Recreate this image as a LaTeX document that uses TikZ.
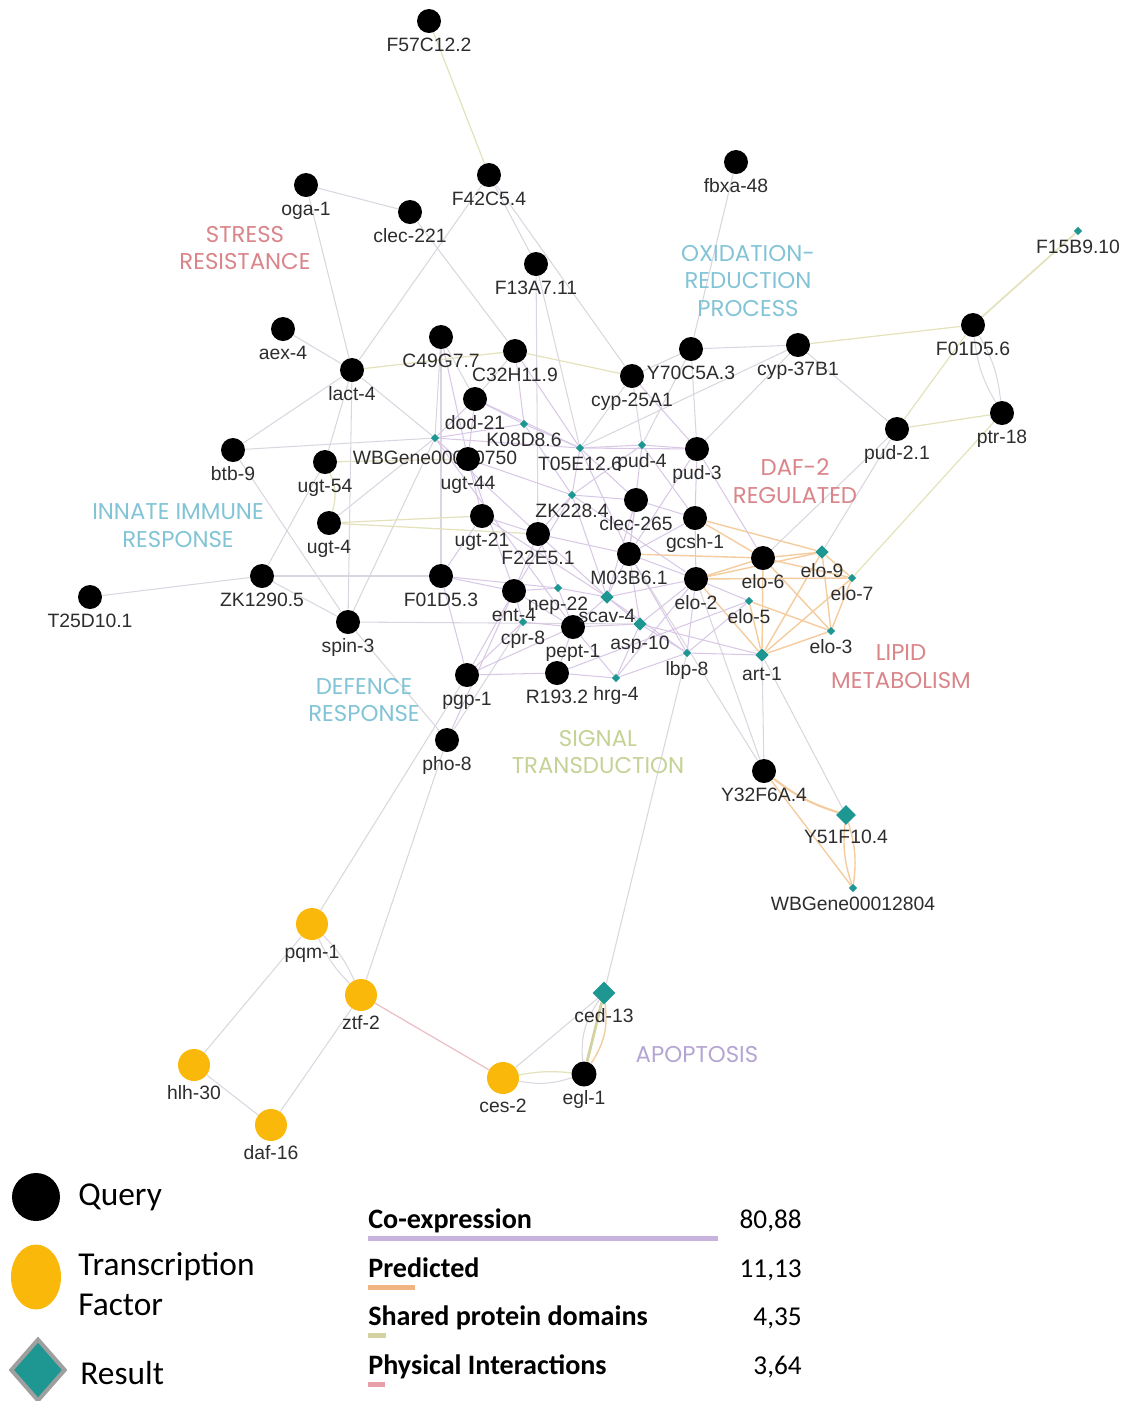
\documentclass[tikz,border=0pt]{standalone}
\usepackage{fontspec}
\setmainfont{Liberation Sans}
\newfontfamily\clusterfont{Poppins}
\newfontfamily\legendfont{Carlito}
\usetikzlibrary{shapes.geometric,backgrounds}

\definecolor{tfgold}{RGB}{250,185,10}
\definecolor{resteal}{RGB}{30,150,145}
\definecolor{genegray}{RGB}{45,45,45}
\definecolor{edgegray}{RGB}{218,214,224}
\definecolor{coexpc}{RGB}{216,200,230}
\definecolor{predc}{RGB}{244,204,158}
\definecolor{sharedc}{RGB}{228,226,188}
\definecolor{physc}{RGB}{235,190,195}
\definecolor{clpink}{RGB}{217,133,137}
\definecolor{clblue}{RGB}{130,196,214}
\definecolor{clgreen}{RGB}{196,210,150}
\definecolor{cllav}{RGB}{180,165,210}
\definecolor{coexpleg}{RGB}{200,178,222}
\definecolor{predleg}{RGB}{240,180,130}
\definecolor{sharedleg}{RGB}{212,210,160}
\definecolor{physleg}{RGB}{232,160,168}

\begin{document}
\begin{tikzpicture}[x=0.02cm, y=-0.02cm,
  query/.style={circle, fill=black, minimum size=0.48cm, inner sep=0pt},
  tfac/.style={circle, fill=tfgold, minimum size=0.64cm, inner sep=0pt},
  res/.style={diamond, fill=resteal, minimum size=0.17cm, inner sep=0pt},
  resmid/.style={res, minimum size=0.27cm},
  resbig/.style={res, minimum size=0.46cm},
  every label/.style={font=\fontsize{11}{12}\selectfont, text=genegray, inner sep=0pt, text height=8pt, text depth=2pt},
  label distance=2pt,
  gen/.style={draw=edgegray, line width=0.6pt},
  coexp/.style={draw=coexpc, line width=0.6pt},
  pred/.style={draw=predc, line width=0.8pt},
  shared/.style={draw=sharedc, line width=0.7pt},
  phys/.style={draw=physc, line width=0.7pt},
  clus/.style={font=\clusterfont\fontsize{13}{15.9}\selectfont, align=center, inner sep=0pt},
  legtxt/.style={font=\legendfont\fontsize{19}{22.7}\selectfont, inner sep=0pt, align=left},
  legb/.style={font=\legendfont\bfseries\fontsize{16}{19}\selectfont, inner sep=0pt},
  legn/.style={font=\legendfont\fontsize{15.5}{18}\selectfont, inner sep=0pt}]
\useasboundingbox (0,0) rectangle (1128,1401);

% query genes
\node[query, label=below:F57C12.2] (F57C) at (429,21) {};
\node[query, label=below:F42C5.4] (F42C) at (489,175) {};
\node[query, label=below:oga-1] (oga) at (306,185) {};
\node[query, label=below:clec-221] (clec221) at (410,212) {};
\node[query, label=below:fbxa-48] (fbxa) at (736,162) {};
\node[query, label=below:F13A7.11] (F13A) at (536,264) {};
\node[query, label=below:aex-4] (aex) at (283,329) {};
\node[query, label=below:C49G7.7] (C49G) at (441,337) {};
\node[query, label=below:C32H11.9] (C32H) at (515,351) {};
\node[query, label=below:lact-4] (lact) at (352,370) {};
\node[query, label=below:Y70C5A.3] (Y70C) at (691,349) {};
\node[query, label=below:cyp-37B1] (cyp37) at (798,345) {};
\node[query, label=below:F01D5.6] (F01D6) at (973,325) {};
\node[query, label=below:cyp-25A1] (cyp25) at (632,376) {};
\node[query, label=below:dod-21] (dod) at (475,399) {};
\node[query, label=below:btb-9] (btb) at (233,450) {};
\node[query, label=below:ptr-18] (ptr) at (1002,413) {};
\node[query, label=below:pud-2.1] (pud21) at (897,429) {};
\node[query, label=below:pud-3] (pud3) at (697,449) {};
\node[res, label={[yshift=-2pt]below:WBGene00010750}] (WBG750) at (435,438) {};
\node[query, label=below:ugt-54] (ugt54) at (325,462) {};
\node[query, label=below:ugt-44] (ugt44) at (468,459) {};
\node[query, label=below:clec-265] (clec265) at (636,500) {};
\node[query, label=below:gcsh-1] (gcsh) at (695,518) {};
\node[query, label=below:ugt-4] (ugt4) at (329,523) {};
\node[query, label=below:ugt-21] (ugt21) at (482,516) {};
\node[query, label=below:F22E5.1] (F22E) at (538,534) {};
\node[query, label=below:M03B6.1] (M03B) at (629,554) {};
\node[query, label=below:elo-6] (elo6) at (763,558) {};
\node[query, label=below:ZK1290.5] (ZK1290) at (262,576) {};
\node[query, label=below:F01D5.3] (F01D3) at (441,576) {};
\node[query, label=below:elo-2] (elo2) at (696,579) {};
\node[query, label=below:T25D10.1] (T25D) at (90,597) {};
\node[query, label=below:ent-4] (ent) at (514,591) {};
\node[query, label=below:pept-1] (pept) at (573,627) {};
\node[query, label=below:pgp-1] (pgp) at (467,675) {};
\node[query, label=below:R193.2] (R193) at (557,673) {};
\node[query, label=below:spin-3] (spin) at (348,622) {};
\node[query, label=below:pho-8] (pho) at (447,740) {};
\node[query, label=below:Y32F6A.4] (Y32F) at (764,771) {};
\node[query, minimum size=0.5cm, label=below:egl-1] (egl) at (584,1074) {};

% results
\node[res, label=below:F15B9.10] (F15B) at (1078,231) {};
\node[res, label=below:K08D8.6] (K08D) at (524,424) {};
\node[res, label=below:T05E12.6] (T05E) at (580,448) {};
\node[res, label=below:pud-4] (pud4) at (642,445) {};
\node[res, label=below:ZK228.4] (ZK228) at (572,495) {};
\node[resmid, label=below:elo-9] (elo9) at (822,552) {};
\node[res, label=below:elo-7] (elo7) at (852,578) {};
\node[res, label=below:elo-5] (elo5) at (749,601) {};
\node[res, label=below:nep-22] (nep) at (558,588) {};
\node[res, label=below:cpr-8] (cpr) at (523,622) {};
\node[resmid, label=below:scav-4] (scav) at (607,597) {};
\node[resmid, label=below:asp-10] (asp) at (640,624) {};
\node[res, label=below:lbp-8] (lbp) at (687,653) {};
\node[res, label=below:hrg-4] (hrg) at (616,678) {};
\node[res, label=below:elo-3] (elo3) at (831,631) {};
\node[resmid, label=below:art-1] (art) at (762,655) {};
\node[res, minimum size=0.4cm, label=below:Y51F10.4] (Y51F) at (846,815) {};
\node[res, label=below:WBGene00012804] (WBG804) at (853,888) {};
\node[resbig, label=below:ced-13] (ced) at (604,993) {};

% transcription factors
\node[tfac, label=below:pqm-1] (pqm) at (312,924) {};
\node[tfac, label=below:ztf-2] (ztf) at (361,995) {};
\node[tfac, label=below:hlh-30] (hlh) at (194,1065) {};
\node[tfac, label=below:daf-16] (daf) at (271,1125) {};
\node[tfac, label=below:ces-2] (ces) at (503,1078) {};

% cluster names
\node[clus, text=clpink] (stress) at (245,248) {STRESS\\RESISTANCE};
\node[clus, text=clblue] (oxred) at (748,281) {OXIDATION-\\REDUCTION\\PROCESS};
\node[clus, text=clpink] (daftwo) at (795,481) {DAF-2\\REGULATED};
\node[clus, text=clblue] (innate) at (178,526) {INNATE IMMUNE\\RESPONSE};
\node[clus, text=clpink] (lipid) at (901,667) {LIPID\\METABOLISM};
\node[clus, text=clblue] (defence) at (364,700) {DEFENCE\\RESPONSE};
\node[clus, text=clgreen] (signal) at (598,752) {SIGNAL\\TRANSDUCTION};
\node[clus, text=cllav] (apopt) at (697,1055) {APOPTOSIS};

\begin{scope}[on background layer]
% outer edges
\draw[shared] (F57C) -- (F42C);
\draw[gen] (F42C) -- (F13A);
\draw[gen] (F42C) -- (cyp25);
\draw[gen] (F42C) -- (lact);
\draw[gen] (oga) -- (clec221);
\draw[gen] (oga) -- (lact);
\draw[gen] (clec221) -- (C32H);
\draw[gen] (fbxa) -- (Y70C);
\draw[gen] (aex) -- (lact);
\draw[gen] (lact) -- (btb);
\draw[gen] (lact) -- (WBG750);
\draw[gen] (lact) -- (ugt54);
\draw[gen] (lact) -- (spin);
\draw[shared] (lact) -- (C32H);
\draw[gen] (btb) -- (WBG750);
\draw[gen] (btb) -- (spin);
\draw[gen] (ZK1290) -- (T25D);
\draw[gen] (ZK1290) -- (F01D3);
\draw[gen] (ZK1290) -- (ugt54);
\draw[gen] (ZK1290) -- (spin);
\draw[gen] (spin) -- (WBG750);
\draw[gen] (spin) -- (asp);
\draw[gen] (spin) -- (pho);
\draw[gen] (pho) -- (ztf);
\draw[gen] (pho) -- (cpr);
\draw[gen] (pgp) -- (pqm);
\draw[gen] (cyp37) -- (Y70C);
\draw[shared] (cyp37) -- (F01D6);
\draw[gen] (cyp37) -- (pud21);
\draw[gen] (cyp37) -- (pud3);
\draw[gen] (cyp37) -- (T05E);
\draw[shared] (F01D6) -- (pud21);
\draw[shared] (pud21) -- (ptr);
\draw[gen] (F01D6) to[bend left=12] (ptr);
\draw[gen] (F01D6) to[bend right=12] (ptr);
\draw[shared, line width=1pt] (F15B) -- (F01D6);
\draw[shared] (ptr) -- (elo7);
\draw[gen] (pud21) -- (elo9);
\draw[gen] (pud21) -- (elo6);
\draw[gen] (Y70C) -- (cyp25);
\draw[gen] (Y70C) -- (pud3);
\draw[gen] (Y70C) -- (pud4);
\draw[shared] (cyp25) -- (C32H);
\draw[gen] (cyp25) -- (pud4);
\draw[gen] (cyp25) -- (T05E);
\draw[gen] (F13A) -- (F22E);
\draw[gen] (F13A) -- (T05E);
\draw[gen] (C32H) -- (dod);
\draw[gen] (C49G) -- (dod);
\draw[gen] (C49G) -- (WBG750);
\draw[gen] (C49G) -- (F01D3);
\draw[shared] (ugt54) to[bend left=20] (ugt4);
\draw[shared] (ugt4) -- (F22E);
\draw[gen] (ugt4) -- (WBG750);
\draw[shared] (ugt54) -- (ugt44);
\draw[shared] (ugt4) -- (ugt21);
\draw[gen] (ced) -- (lbp);
\draw[gen] (ces) -- (ced);
\draw[shared] (ces) to[bend left=8] (egl);
\draw[gen] (ces) to[bend right=14] (egl);
\draw[gen] (egl) to[bend left=20] (ced);
\draw[sharedleg, line width=1.6pt] (egl) -- (ced);
\draw[pred] (egl) to[bend right=20] (ced);
\draw[gen] (pqm) to[bend left=10] (ztf);
\draw[gen] (pqm) to[bend right=10] (ztf);
\draw[gen] (pqm) -- (hlh);
\draw[gen] (ztf) -- (daf);
\draw[gen] (hlh) -- (daf);
\draw[phys] (ztf) -- (ces);
\draw[gen] (Y32F) -- (art);
\draw[gen] (Y32F) -- (M03B);
\draw[gen] (Y32F) -- (elo2);
\draw[gen] (Y51F) -- (art);
\draw[pred, line width=1.2pt] (Y32F) to[bend right=10] (Y51F);
\draw[pred] (Y32F) -- (WBG804);
\draw[pred] (Y51F) to[bend left=12] (WBG804);
\draw[pred] (Y51F) to[bend right=12] (WBG804);
% lipid edges
\draw[pred] (elo2) -- (elo6);
\draw[pred] (elo2) -- (elo9);
\draw[pred] (elo2) -- (elo7);
\draw[pred] (elo2) -- (art);
\draw[pred] (elo6) -- (elo9);
\draw[pred] (elo6) -- (elo7);
\draw[pred] (elo6) -- (art);
\draw[pred] (elo6) -- (elo3);
\draw[pred] (elo9) -- (elo7);
\draw[pred] (elo9) -- (art);
\draw[pred] (elo9) -- (elo3);
\draw[pred] (elo7) -- (elo3);
\draw[pred] (elo7) -- (art);
\draw[pred] (elo3) -- (art);
\draw[pred] (elo5) -- (art);
\draw[pred] (elo5) -- (elo3);
\draw[pred] (gcsh) -- (elo9);
\draw[pred] (gcsh) -- (elo6);
\draw[pred] (M03B) -- (elo6);
% central co-expression edges
\draw[coexp] (WBG750) -- (dod);
\draw[coexp] (WBG750) -- (K08D);
\draw[coexp] (WBG750) -- (T05E);
\draw[coexp] (WBG750) -- (F22E);
\draw[coexp] (WBG750) -- (pept);
\draw[coexp] (dod) -- (K08D);
\draw[coexp] (dod) -- (T05E);
\draw[coexp] (K08D) -- (T05E);
\draw[coexp] (K08D) -- (ZK228);
\draw[coexp] (T05E) -- (pud4);
\draw[coexp] (T05E) -- (pud3);
\draw[coexp] (T05E) -- (ZK228);
\draw[coexp] (T05E) -- (clec265);
\draw[coexp] (T05E) -- (M03B);
\draw[coexp] (pud4) -- (pud3);
\draw[coexp] (pud4) -- (ZK228);
\draw[coexp] (pud4) -- (gcsh);
\draw[coexp] (pud4) -- (M03B);
\draw[coexp] (ZK228) -- (clec265);
\draw[coexp] (ZK228) -- (F22E);
\draw[coexp] (ZK228) -- (ent);
\draw[coexp] (ZK228) -- (scav);
\draw[coexp] (ZK228) -- (elo2);
\draw[coexp] (clec265) -- (gcsh);
\draw[coexp] (clec265) -- (M03B);
\draw[coexp] (clec265) -- (scav);
\draw[coexp] (gcsh) -- (elo2);
\draw[coexp] (gcsh) -- (M03B);
\draw[coexp] (ugt21) -- (F22E);
\draw[coexp] (ugt21) -- (scav);
\draw[coexp] (ugt44) -- (ZK228);
\draw[coexp] (ugt44) -- (ent);
\draw[coexp] (F22E) -- (ent);
\draw[coexp] (F22E) -- (scav);
\draw[coexp] (F22E) -- (M03B);
\draw[coexp] (F22E) -- (nep);
\draw[coexp] (M03B) -- (scav);
\draw[coexp] (M03B) -- (asp);
\draw[coexp] (M03B) -- (elo2);
\draw[coexp] (M03B) -- (lbp);
\draw[coexp] (ent) -- (nep);
\draw[coexp] (ent) -- (cpr);
\draw[coexp] (ent) -- (pept);
\draw[coexp] (nep) -- (scav);
\draw[coexp] (nep) -- (pept);
\draw[coexp] (scav) -- (asp);
\draw[coexp] (scav) -- (pept);
\draw[coexp] (scav) -- (elo2);
\draw[coexp] (scav) -- (lbp);
\draw[coexp] (asp) -- (pept);
\draw[coexp] (asp) -- (hrg);
\draw[coexp] (asp) -- (lbp);
\draw[coexp] (asp) -- (elo2);
\draw[coexp] (asp) -- (art);
\draw[coexp] (pept) -- (R193);
\draw[coexp] (pept) -- (hrg);
\draw[coexp] (pept) -- (cpr);
\draw[coexp] (R193) -- (hrg);
\draw[coexp] (pgp) -- (R193);
\draw[coexp] (pgp) -- (ent);
\draw[coexp] (pgp) -- (pept);
\draw[coexp] (pgp) -- (cpr);
\draw[coexp] (F01D3) -- (ent);
\draw[coexp] (F01D3) -- (nep);
\draw[coexp] (F01D3) -- (pgp);
\draw[coexp] (lbp) -- (elo2);
\draw[coexp] (lbp) -- (art);
\draw[coexp] (lbp) -- (elo5);
\draw[coexp] (hrg) -- (lbp);
\draw[coexp] (hrg) -- (elo2);
\draw[coexp] (elo2) -- (elo5);
\draw[coexp] (C49G) -- (ugt44);
\draw[coexp] (dod) -- (ugt44);
\draw[coexp] (ugt44) -- (ugt21);
\draw[coexp] (ugt21) -- (F01D3);
\draw[coexp] (C32H) -- (K08D);
\draw[coexp] (C32H) -- (T05E);
\draw[coexp] (cyp25) -- (pud3);
\draw[coexp] (pud3) -- (gcsh);
\draw[coexp] (pud3) -- (elo6);
\draw[coexp] (pud3) -- (M03B);
\draw[coexp] (pho) -- (ent);
\draw[coexp] (R193) -- (elo5);
\end{scope}

% legend
\node[circle, fill=black, minimum size=0.96cm, inner sep=0pt] (legq) at (36,1197) {};
\node[legtxt, anchor=west] (legqt) at (78,1197) {Query};
\node[ellipse, fill=tfgold, minimum width=1.0cm, minimum height=1.3cm, inner sep=0pt] (legtf) at (36,1277) {};
\node[legtxt, anchor=west] (legtft) at (78,1284) {Transcription\\Factor};
\node[diamond, fill=resteal, draw=gray!75, line width=2.3pt, minimum width=1.1cm, minimum height=1.25cm, inner sep=0pt] (legres) at (38,1370) {};
\node[legtxt, anchor=west] (legrest) at (80,1373) {Result};

\node[legb, anchor=base west] (legco) at (368,1228) {Co-expression};
\node[legn, anchor=base east] (legcon) at (802,1228) {80,88};
\fill[coexpleg] (368,1235.5) rectangle (718,1240.5);
\node[legb, anchor=base west] (legpr) at (368,1277) {Predicted};
\node[legn, anchor=base east] (legprn) at (802,1277) {11,13};
\fill[predleg] (368,1284.5) rectangle (415,1289.5);
\node[legb, anchor=base west] (legsh) at (368,1325) {Shared protein domains};
\node[legn, anchor=base east] (legshn) at (802,1325) {4,35};
\fill[sharedleg] (368,1332.5) rectangle (386,1337.5);
\node[legb, anchor=base west] (legph) at (368,1374) {Physical Interactions};
\node[legn, anchor=base east] (legphn) at (802,1374) {3,64};
\fill[physleg] (368,1381.5) rectangle (385,1386.5);
\end{tikzpicture}
\end{document}
